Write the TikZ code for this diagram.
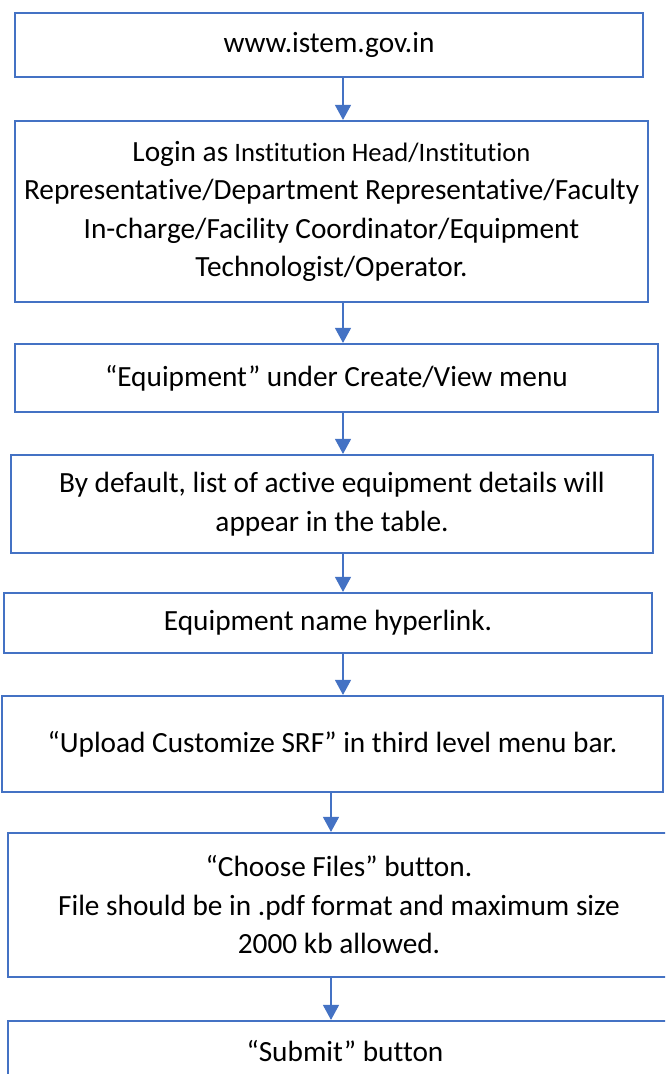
\documentclass[tikz,border=0pt]{standalone}
\usepackage{fontspec}
\setmainfont{Carlito}[Ligatures={NoCommon,NoContextual}]
\usetikzlibrary{arrows.meta}
\definecolor{boxblue}{HTML}{4472C4}
\newcommand{\bigtext}{\fontsize{29.3}{38.5}\selectfont}
\newcommand{\smalltext}{\fontsize{26.6}{35}\selectfont}
\begin{document}
\begin{tikzpicture}[x=1pt,y=-1pt,
  stepbox/.style={draw=boxblue, line width=2.2pt, fill=white, inner sep=0pt,
    align=center, font=\bigtext},
  flow/.style={draw=boxblue, line width=1.3pt,
    -{Triangle[width=16pt,length=15pt]}}]
  \useasboundingbox (0,0) rectangle (665,1074);
  \clip (0,0) rectangle (665,1074);
  \fill[white] (0,0) rectangle (665,1074);

  % process steps, top to bottom
  \node[stepbox, minimum width=628pt, minimum height=64pt] (b1) at (329,45)
    {www.istem.gov.in};
  \node[stepbox, minimum width=633pt, minimum height=181pt] (b2) at (331.5,211.5)
    {\smalltext{\bigtext Login as} Institution Head/Institution\\
     Representative/Department Representative/Faculty\\
     In-charge/Facility Coordinator/Equipment\\
     Technologist/Operator.};
  \node[stepbox, minimum width=643pt, minimum height=68pt] (b3) at (336.5,378)
    {“Equipment” under Create/View menu};
  \node[stepbox, minimum width=642pt, minimum height=98pt] (b4) at (332,504)
    {By default, list of active equipment details will\\appear in the table.};
  \node[stepbox, minimum width=648pt, minimum height=60pt] (b5) at (328,623)
    {Equipment name hyperlink.};
  \node[stepbox, minimum width=661pt, minimum height=96pt] (b6) at (332.5,744)
    {“Upload Customize SRF” in third level menu bar.};
  \node[stepbox, minimum width=662pt, minimum height=144pt] (b7) at (339,905)
    {“Choose Files” button.\\File should be in .pdf format and maximum size\\2000 kb allowed.};
  \node[stepbox, minimum width=674pt, minimum height=61pt] (b8) at (345,1051.5)
    {“Submit” button};

  % columns that the connectors run along
  \coordinate (colA) at (343,0);
  \coordinate (colB) at (331,0);

  \draw[flow] (b1.south -| colA) -- (b2.north -| colA);
  \draw[flow] (b2.south -| colA) -- (b3.north -| colA);
  \draw[flow] (b3.south -| colA) -- (b4.north -| colA);
  \draw[flow] (b4.south -| colA) -- (b5.north -| colA);
  \draw[flow] (b5.south -| colA) -- (b6.north -| colA);
  \draw[flow] (b6.south -| colB) -- (b7.north -| colB);
  \draw[flow] (b7.south -| colB) -- (b8.north -| colB);
\end{tikzpicture}
\end{document}
